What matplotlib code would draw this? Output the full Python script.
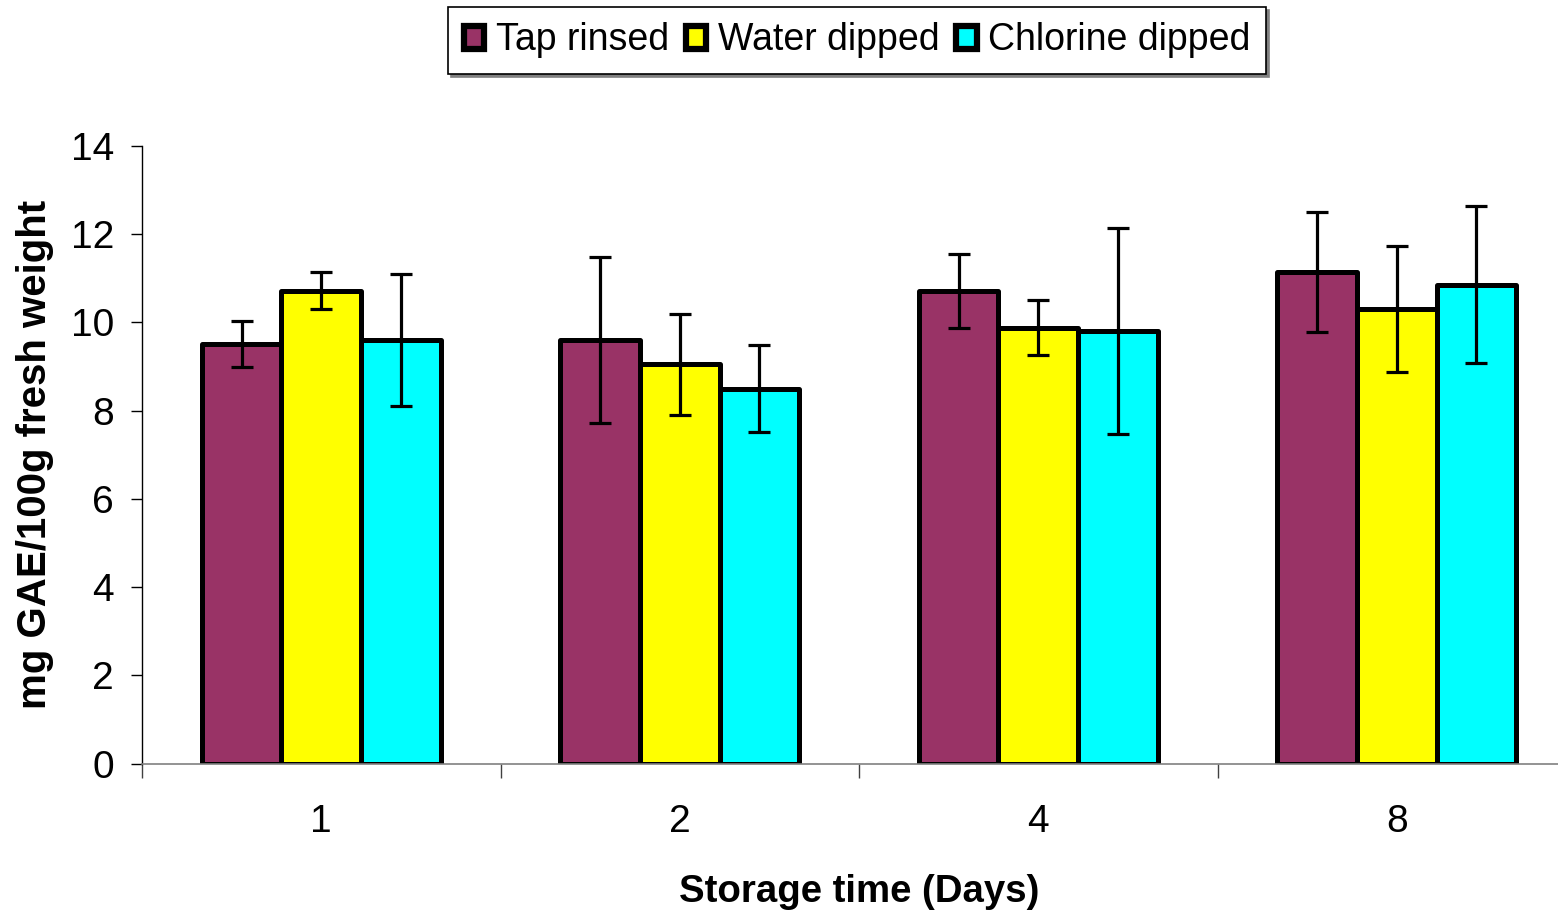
import matplotlib
matplotlib.use("Agg")
import matplotlib.pyplot as plt
import numpy as np

plt.rcParams['font.family'] = ['Liberation Sans', 'DejaVu Sans']

categories = ["1", "2", "4", "8"]
series_names = ["Tap rinsed", "Water dipped", "Chlorine dipped"]
tap = [9.52, 9.60, 10.71, 11.15]
tap_err = [0.52, 1.88, 0.84, 1.36]
water = [10.72, 9.05, 9.88, 10.30]
water_err = [0.42, 1.15, 0.62, 1.43]
chlorine = [9.60, 8.50, 9.80, 10.85]
chlorine_err = [1.50, 0.98, 2.34, 1.78]
colors = ["#993366", "#FFFF00", "#00FFFF"]

W, H = 1558, 915
fig = plt.figure(figsize=(W / 100, H / 100), dpi=100)
left_px, right_px, top_px, bottom_px = 142, 142 + 4 * 358.5, 146, 763.5
ax = fig.add_axes([left_px / W, 1 - bottom_px / H, (right_px - left_px) / W, (bottom_px - top_px) / H])

x = np.arange(len(categories))
bw = 0.222
handles = []
for i, (vals, errs, c, name) in enumerate(zip([tap, water, chlorine],
                                                [tap_err, water_err, chlorine_err],
                                                colors, series_names)):
    pos = x + (i - 1) * bw
    b = ax.bar(pos, vals, width=bw, color=c, edgecolor="black", linewidth=3.6,
               joinstyle="round", label=name, zorder=2)
    handles.append(b)
    ax.errorbar(pos, vals, yerr=errs, fmt="none", ecolor="black", elinewidth=2.3,
                capsize=8, capthick=2.3, zorder=3)

ax.set_xlim(-0.5, 3.5)
ax.set_ylim(0, 14)
ax.set_yticks(np.arange(0, 15, 2))
ax.set_xticks(x)
ax.set_xticklabels(categories)
ax.set_xticks(np.arange(-0.5, 4.0, 1.0), minor=True)
ax.tick_params(axis="x", which="major", length=0, pad=29, labelsize=28)
ax.tick_params(axis="x", which="minor", length=10, width=1, color="#404040", direction="out")
ax.tick_params(axis="y", which="major", length=8, width=1, pad=12, labelsize=28, direction="out")

for s in ["top", "right"]:
    ax.spines[s].set_visible(False)
ax.spines["left"].set_linewidth(1)
ax.spines["bottom"].set_linewidth(1.2)
ax.spines["bottom"].set_color("#808080")

ax.set_ylabel("mg GAE/100g fresh weight", fontsize=29, fontweight="bold", labelpad=12)
ax.set_xlabel("Storage time (Days)", fontsize=27.6, fontweight="bold", labelpad=25)

leg = fig.legend(handles, series_names, loc="center",
                 bbox_to_anchor=(857 / W, 1 - 40.5 / H), ncol=3, frameon=True,
                 fancybox=False, shadow={"color": "#808080", "alpha": 1.0},
                 edgecolor="black", fontsize=27, handlelength=0.55, handleheight=0.55,
                 handletextpad=0.3, columnspacing=0.45, borderpad=0.42, borderaxespad=0)
leg.get_frame().set_linewidth(1.2)
for h in leg.legend_handles:
    h.set_linewidth(4.5)

fig.savefig("out.png", dpi=100)
